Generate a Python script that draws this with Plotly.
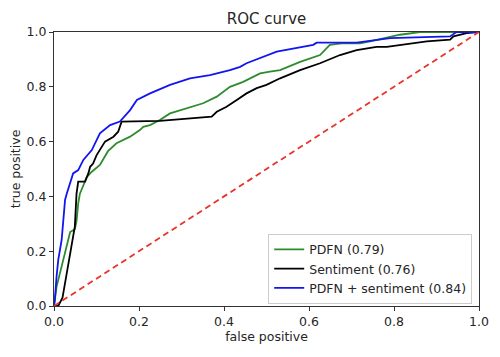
import plotly.graph_objects as go

# PDFN (green)
pdfn_fpr = [0.0, 0.006, 0.014, 0.026, 0.038, 0.049, 0.053, 0.057, 0.061, 0.077, 0.089, 0.108, 0.127, 0.147,
            0.155, 0.179, 0.202, 0.21, 0.226, 0.249, 0.273, 0.32, 0.351, 0.383, 0.414, 0.445, 0.485, 0.508,
            0.532, 0.579, 0.626, 0.649, 0.681, 0.72, 0.744, 0.814, 0.861, 1.0]
pdfn_tpr = [0.0, 0.07, 0.12, 0.19, 0.27, 0.28, 0.31, 0.375, 0.41, 0.47, 0.49, 0.515, 0.565, 0.594,
            0.6, 0.618, 0.642, 0.654, 0.66, 0.679, 0.703, 0.727, 0.74, 0.764, 0.8, 0.818, 0.849, 0.855,
            0.861, 0.891, 0.916, 0.953, 0.959, 0.959, 0.966, 0.99, 1.0, 1.0]

# Sentiment (black)
sent_fpr = [0.0, 0.01, 0.02, 0.03, 0.042, 0.049, 0.053, 0.057, 0.069, 0.073, 0.081, 0.085, 0.092, 0.1, 0.12,
            0.14, 0.151, 0.159, 0.249, 0.371, 0.383, 0.406, 0.43, 0.453, 0.477, 0.5, 0.532, 0.579, 0.626,
            0.673, 0.712, 0.759, 0.783, 0.822, 0.877, 0.932, 0.94, 0.971, 1.0]
sent_tpr = [0.0, 0.0, 0.03, 0.12, 0.217, 0.29, 0.41, 0.454, 0.454, 0.454, 0.485, 0.508, 0.52, 0.55, 0.6,
            0.618, 0.636, 0.673, 0.676, 0.691, 0.709, 0.727, 0.752, 0.776, 0.795, 0.807, 0.831, 0.861, 0.886,
            0.916, 0.934, 0.946, 0.946, 0.954, 0.966, 0.972, 0.984, 0.996, 1.0]

# PDFN + sentiment (blue)
comb_fpr = [0.0, 0.002, 0.006, 0.01, 0.018, 0.022, 0.026, 0.03, 0.042, 0.045, 0.057, 0.069, 0.089, 0.108,
            0.132, 0.155, 0.179, 0.195, 0.226, 0.273, 0.32, 0.367, 0.414, 0.438, 0.453, 0.485, 0.524,
            0.61, 0.618, 0.712, 0.767, 0.791, 0.932, 0.947, 1.0]
comb_tpr = [0.0, 0.022, 0.107, 0.168, 0.241, 0.314, 0.387, 0.41, 0.47, 0.484, 0.496, 0.533, 0.569, 0.63,
            0.66, 0.673, 0.715, 0.752, 0.776, 0.807, 0.831, 0.843, 0.861, 0.873, 0.886, 0.904, 0.928,
            0.953, 0.961, 0.961, 0.971, 0.978, 0.984, 1.0, 1.0]

diag = [0.0, 1.0]

series = [
    ("PDFN (0.79)", pdfn_fpr, pdfn_tpr, "#2e8b2e"),
    ("Sentiment (0.76)", sent_fpr, sent_tpr, "black"),
    ("PDFN + sentiment (0.84)", comb_fpr, comb_tpr, "#1414f0"),
]

fig = go.Figure()
for name, x, y, c in series:
    fig.add_trace(go.Scatter(x=x, y=y, mode="lines", name=name,
                             line=dict(color=c, width=1.8)))
fig.add_trace(go.Scatter(x=diag, y=diag, mode="lines", showlegend=False,
                         line=dict(color="#e8342c", width=1.8, dash="6px,4px")))

font = "DejaVu Sans, sans-serif"
txt = "#262626"
axis_common = dict(range=[0, 1], dtick=0.2, tickformat=".1f", showgrid=False, zeroline=False,
                   showline=True, linecolor="#333", linewidth=1, mirror=True,
                   ticks="outside", ticklen=4, tickcolor="#333",
                   tickfont=dict(family=font, size=12.5, color=txt))
fig.update_layout(
    width=500, height=357,
    margin=dict(l=46, r=29, t=24, b=59, autoexpand=False),
    paper_bgcolor="white", plot_bgcolor="white",
    title=dict(text="ROC curve", x=0.5, xref="paper", xanchor="center", y=1 - 11 / 357, yanchor="middle",
               font=dict(family=font, size=15, color=txt)),
    xaxis=dict(axis_common, title=dict(text="false positive", font=dict(family=font, size=12.5, color=txt), standoff=2)),
    yaxis=dict(axis_common, title=dict(text="true positive", font=dict(family=font, size=12.5, color=txt), standoff=4)),
    legend=dict(x=0.984, y=0.008, xanchor="right", yanchor="bottom",
                bgcolor="rgba(255,255,255,0.9)", bordercolor="#cccccc", borderwidth=1,
                font=dict(family=font, size=12.5, color=txt), tracegroupgap=0, itemwidth=30),
    showlegend=True,
)

fig.write_html("out.html")
